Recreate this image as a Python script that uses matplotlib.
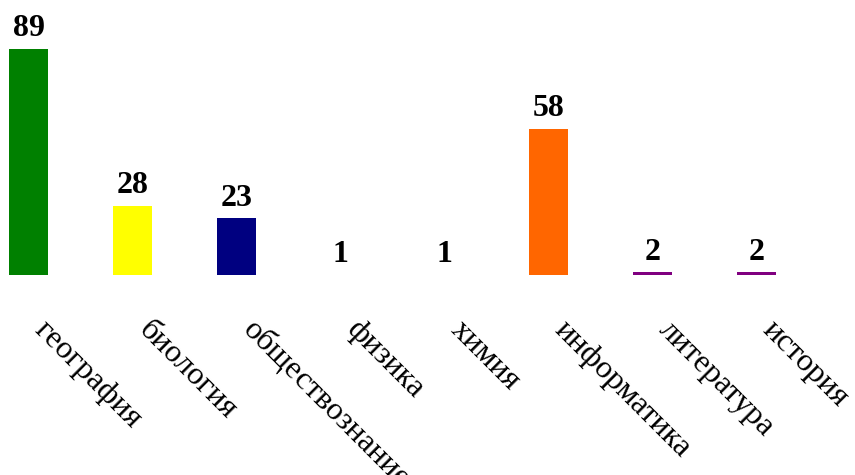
import matplotlib
matplotlib.use('Agg')
import matplotlib.pyplot as plt

subjects = ['география', 'биология', 'обществознание', 'физика', 'химия',
            'информатика', 'литература', 'история']
counts = [89, 28, 23, 1, 1, 58, 2, 2]
colors = ['#008000', '#FFFF00', '#000080', '#FFFFFF', '#FFFFFF',
          '#FF6600', '#800080', '#800080']

plt.rcParams['font.family'] = ['Liberation Serif', 'DejaVu Serif']

fig = plt.figure(figsize=(8.55, 4.75), dpi=100)
ax = fig.add_axes([0, 200 / 475, 1, 275 / 475])

x = list(range(len(subjects)))
ax.bar(x, [c - 1 for c in counts], bottom=1, width=0.38, color=colors)

for xi, c in zip(x, counts):
    ax.annotate(str(c), (xi, c), xytext=(0, 9), textcoords='offset points',
                ha='center', va='baseline', fontsize=23, fontweight='bold')

ax.set_xlim(-28.5 / 104, (855 - 28.5) / 104)
ax.set_ylim(1, 1 + 275 / 2.57)
ax.set_yticks([])
ax.set_xticks(x)
ax.set_xticklabels(subjects, rotation=-45, rotation_mode='anchor',
                   ha='left', va='bottom', fontsize=23)
ax.tick_params(axis='x', length=0, pad=44)
for s in ax.spines.values():
    s.set_visible(False)

fig.savefig('out.png', dpi=100)
